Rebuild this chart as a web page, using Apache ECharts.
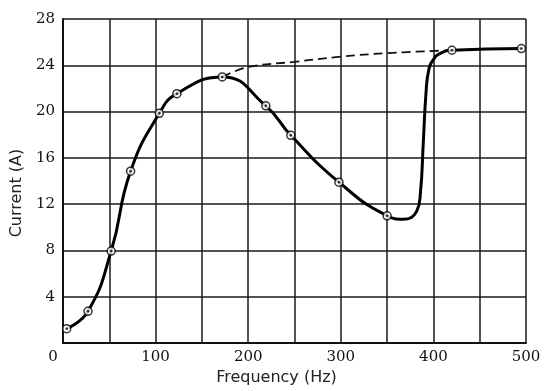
<!DOCTYPE html>
<html>
<head>
<meta charset="utf-8">
<script src="https://cdn.jsdelivr.net/npm/echarts@6/dist/echarts.min.js"></script>
<style>html,body{margin:0;padding:0;background:#fff}#c{width:550px;height:391px}</style>
</head>
<body>
<div id="c"></div>
<script>
// Measured points (circled markers)
var markerFreq    = [4, 27, 52, 73, 104, 123, 172, 219, 246, 298, 350, 420, 495];
var markerCurrent = [1.25, 2.75, 7.95, 14.85, 19.85, 21.55, 23.0, 20.5, 17.95, 13.9, 11.0, 25.3, 25.45];
// Extra points (dip and sharp rise, no markers)
var shapeFreq    = [367, 382, 386, 389, 392, 395, 400, 408];
var shapeCurrent = [10.7, 11.4, 13.0, 17.2, 21.6, 23.6, 24.5, 25.05];
// Dashed curve
var dashFreq    = [172, 200, 250, 300, 350, 420];
var dashCurrent = [23.0, 23.85, 24.3, 24.75, 25.05, 25.3];
// Axes
var xTicks = [0, 100, 200, 300, 400, 500];
var yTicks = [4, 8, 12, 16, 20, 24, 28];

function pairs(xs, ys){ return xs.map(function(x,i){ return [x, ys[i]]; }); }
var curve = pairs(markerFreq, markerCurrent).concat(pairs(shapeFreq, shapeCurrent))
  .sort(function(a,b){ return a[0]-b[0]; });

var chart = echarts.init(document.getElementById('c'), null, {renderer:'canvas'});
chart.setOption({
  backgroundColor:'#fff',
  animation:false,
  grid:{left:63, top:19, right:24, bottom:47},
  xAxis:{
    type:'value', min:0, max:500, interval:50,
    name:'Frequency (Hz)', nameLocation:'middle', nameGap:22,
    nameTextStyle:{fontFamily:'DejaVu Sans', fontSize:16, color:'#222', padding:[0,36,0,0]},
    axisLine:{show:true, onZero:false, lineStyle:{color:'#111', width:2}},
    axisTick:{show:false},
    axisLabel:{
      margin:7,
      fontFamily:'DejaVu Serif', fontSize:15, color:'#111',
      formatter:function(v){
        if (xTicks.indexOf(v) < 0) return '';
        if (v === 0) return '{z|0}';
        return String(v);
      },
      rich:{z:{fontFamily:'DejaVu Serif', fontSize:15, color:'#111', padding:[0,20,0,0]}}
    },
    splitLine:{show:true, lineStyle:{color:'#1a1a1a', width:1.5}}
  },
  yAxis:{
    type:'value', min:0, max:28, interval:4,
    name:'Current (A)', nameLocation:'middle', nameGap:35, nameRotate:90,
    nameTextStyle:{fontFamily:'DejaVu Sans', fontSize:16, color:'#222', padding:[0,24,0,0]},
    axisLine:{show:true, lineStyle:{color:'#111', width:2}},
    axisTick:{show:false},
    axisLabel:{
      margin:8, fontFamily:'DejaVu Serif', fontSize:15, color:'#111',
      formatter:function(v){ return yTicks.indexOf(v) >= 0 ? String(v) : ''; }
    },
    splitLine:{show:true, lineStyle:{color:'#1a1a1a', width:1.5}}
  },
  series:[
    {
      type:'line', data:pairs(dashFreq, dashCurrent), smooth:0.4, showSymbol:false,
      lineStyle:{color:'#111', width:1.8, type:[9,5]}, z:3
    },
    {
      type:'line', data:curve, smooth:0.5, showSymbol:false,
      lineStyle:{color:'#000', width:3}, z:4
    },
    {
      type:'scatter', data:pairs(markerFreq, markerCurrent), symbol:'circle', symbolSize:8,
      itemStyle:{color:'#fff', borderColor:'#000', borderWidth:1.5}, z:5
    },
    {
      type:'scatter', data:pairs(markerFreq, markerCurrent), symbol:'circle', symbolSize:2.5,
      itemStyle:{color:'#000'}, z:6
    }
  ]
});
</script>
</body>
</html>
